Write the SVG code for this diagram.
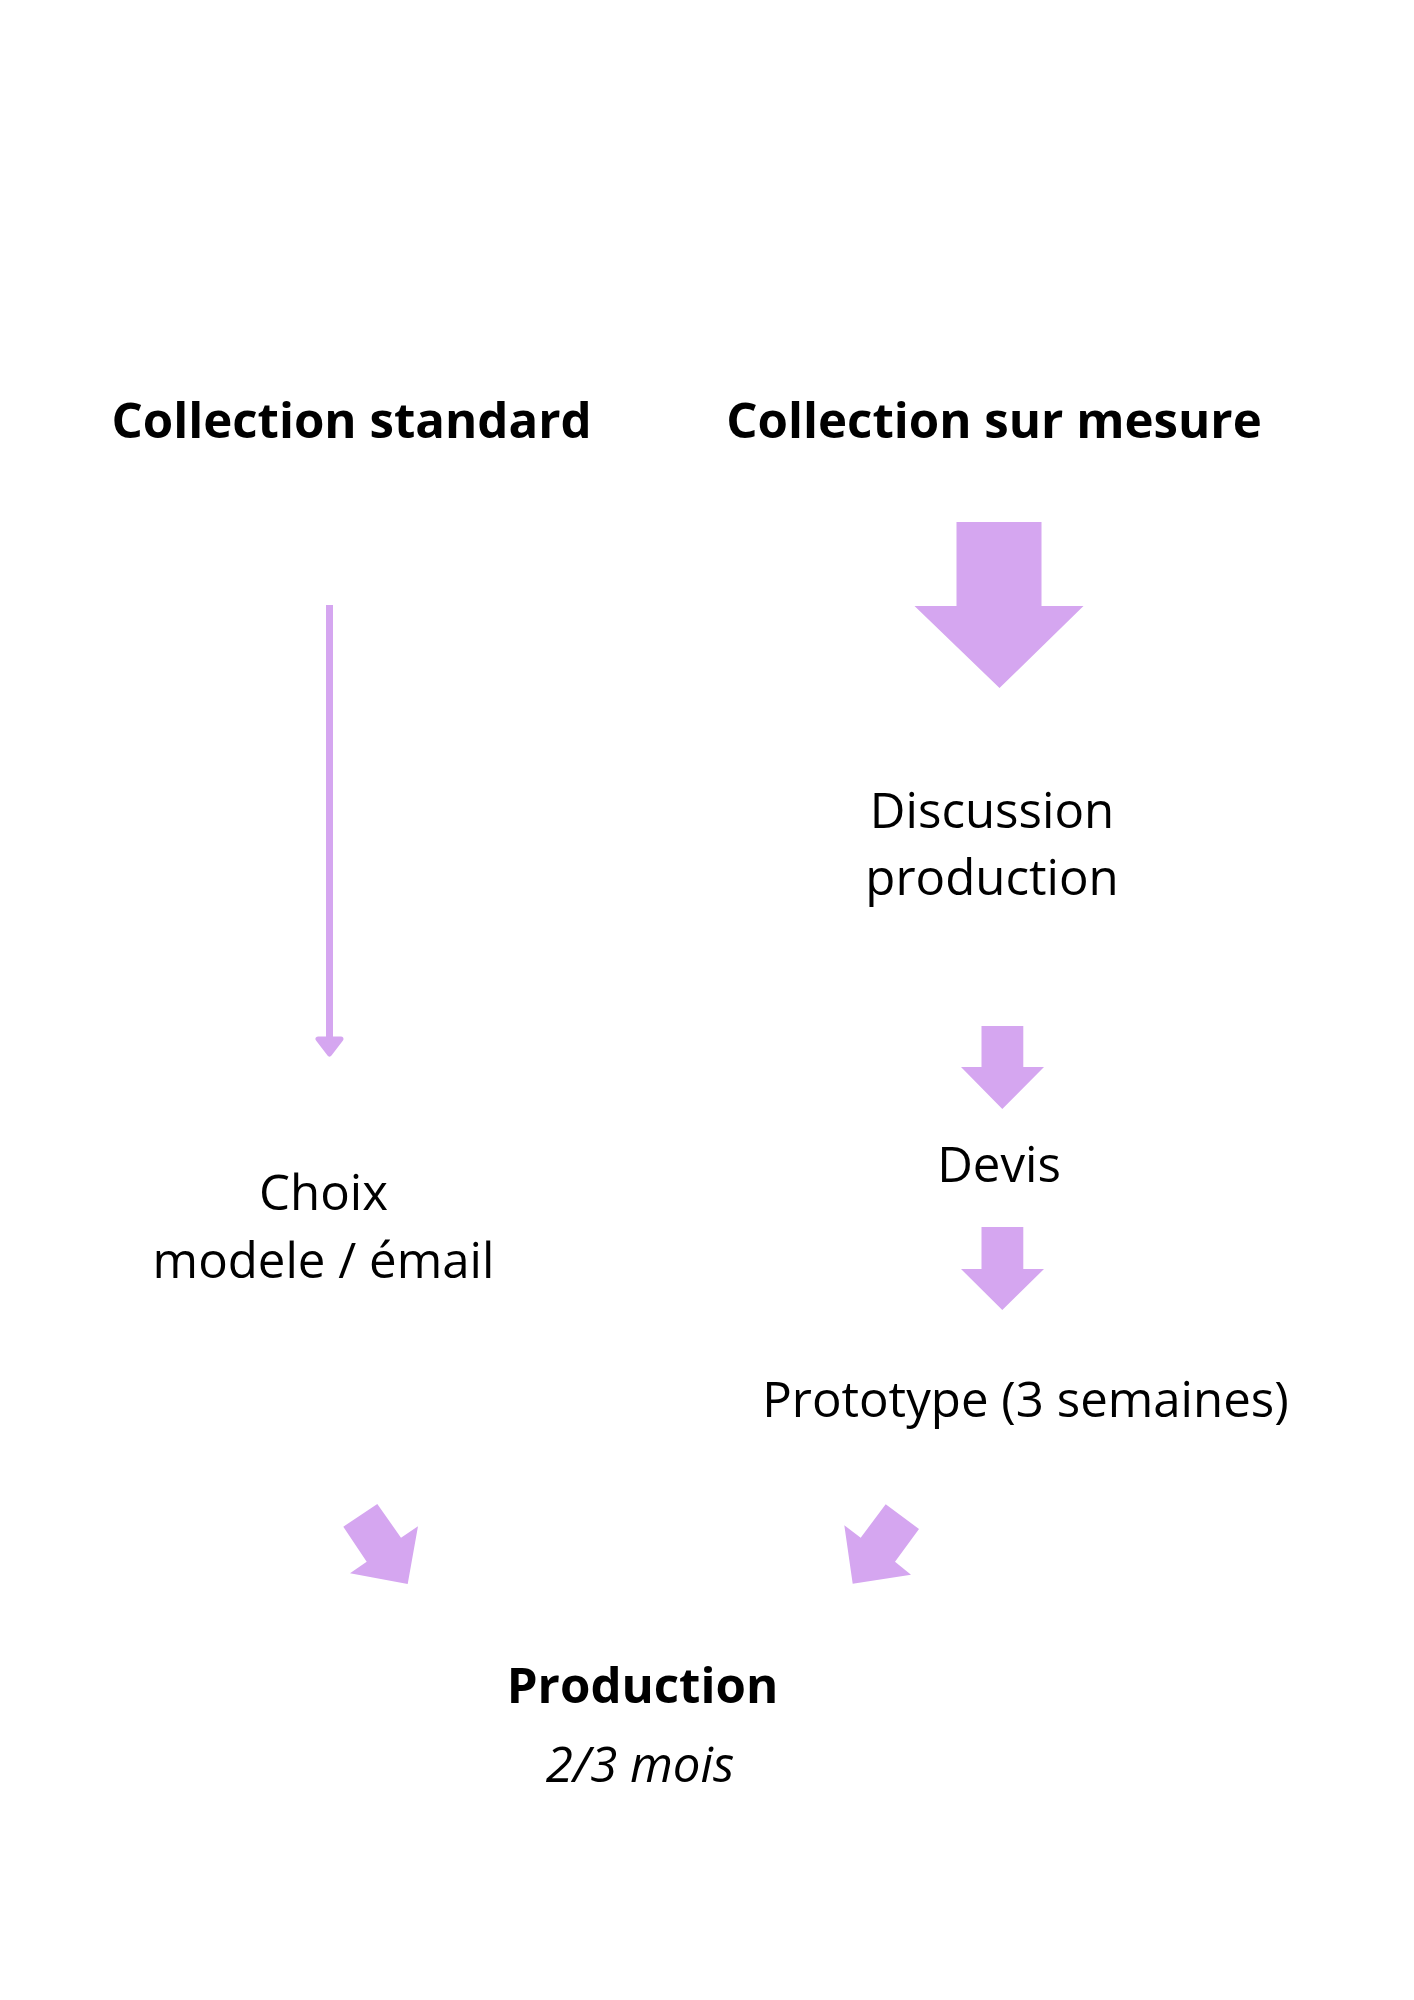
<svg xmlns="http://www.w3.org/2000/svg" width="1414" height="2000" viewBox="0 0 1414 2000">
<style>
  text { font-family: "Open Sans", "Noto Sans", "Liberation Sans", sans-serif; font-size: 49.2px; fill: #000000; text-anchor: middle; }
  .bold { font-weight: 700; }
  .ital { font-style: italic; }
  .arrow { fill: #D5A6F0; }
  .thin { stroke: #D5A6F0; stroke-width: 7; fill: none; }
</style>
<rect x="0" y="0" width="1414" height="2000" fill="#ffffff"/>

<g id="header-standard"><text class="bold" x="351.5" y="438">Collection standard</text></g>
<g id="header-sur-mesure"><text class="bold" x="994" y="438">Collection sur mesure</text></g>

<g id="node-discussion">
  <text x="992" y="828">Discussion</text>
  <text x="992" y="895">production</text>
</g>
<g id="node-devis"><text x="999" y="1182">Devis</text></g>
<g id="node-prototype"><text x="1025.5" y="1417">Prototype (3 semaines)</text></g>
<g id="node-choix">
  <text x="323.5" y="1210">Choix</text>
  <text x="323.5" y="1278">modele / émail</text>
</g>
<g id="node-production">
  <text class="bold" x="642.5" y="1703">Production</text>
  <text class="ital" x="640" y="1782">2/3 mois</text>
</g>

<g id="connectors">
  <line class="thin" x1="329.5" y1="605" x2="329.5" y2="1040"/>
  <polygon class="arrow" points="318,1039 341,1039 329.5,1054" stroke="#D5A6F0" stroke-width="5" stroke-linejoin="round"/>
  <polygon class="arrow" points="956.5,522 1041.5,522 1041.5,606 1083.5,606 999.5,688 914.5,606 956.5,606"/>
  <polygon class="arrow" points="981.5,1026 1023.3,1026 1023.3,1067 1044,1067 1002.3,1109 961,1067 981.5,1067"/>
  <polygon class="arrow" points="981.5,1227 1023.3,1227 1023.3,1269 1044,1269 1002.3,1310 961,1269 981.5,1269"/>
  <polygon class="arrow" points="377.3,1504 401,1537.7 418,1526.3 407.7,1584 350,1573.3 366.7,1561.7 343.3,1526.7"/>
  <polygon class="arrow" points="885.7,1504.3 919,1529 895,1561.7 911,1574.7 852.7,1583.7 844.3,1525.3 860.7,1537.7"/>
</g>
</svg>
